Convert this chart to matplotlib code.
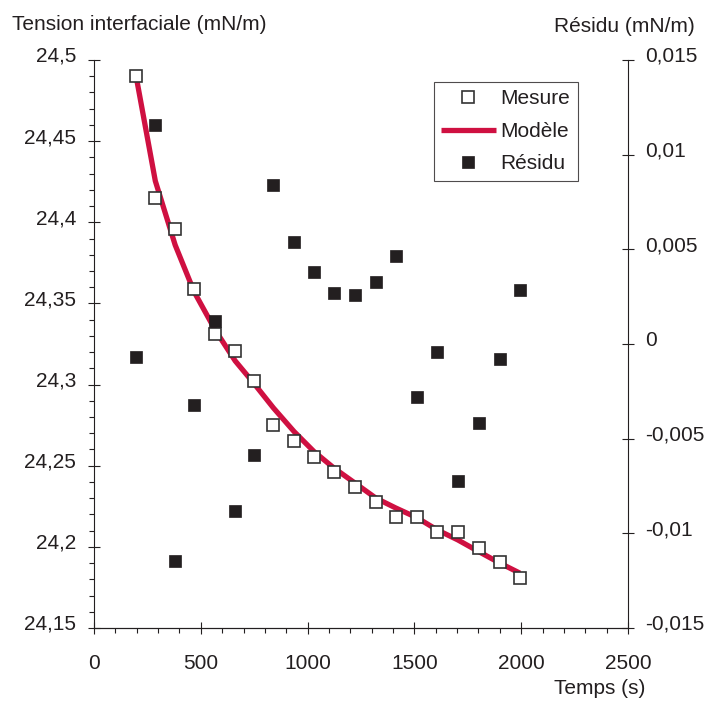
import matplotlib.pyplot as plt
import matplotlib.ticker as ticker
import matplotlib.transforms as mtransforms
import numpy as np

plt.rcParams['font.family'] = ['Liberation Sans', 'DejaVu Sans']

# data
temps = [197, 287, 380, 469, 567, 661, 747, 840, 937, 1030,
         1124, 1223, 1320, 1412, 1513, 1606, 1703, 1801, 1900, 1994]
mesure = [24.4901, 24.4148, 24.3959, 24.3587, 24.3310, 24.3207, 24.3024, 24.2750, 24.2655, 24.2556,
          24.2464, 24.2371, 24.2279, 24.2187, 24.2187, 24.2092, 24.2092, 24.1994, 24.1909, 24.1811]
modele = [24.4901, 24.4255, 24.3860, 24.3571, 24.3337, 24.3146, 24.3010, 24.2856, 24.2710, 24.2587,
          24.2485, 24.2392, 24.2300, 24.2240, 24.2179, 24.2105, 24.2043, 24.1971, 24.1900, 24.1838]
residu = [-0.00070, 0.01155, -0.01146, -0.00322, 0.00123, -0.00882, -0.00586, 0.00840, 0.00537, 0.00379,
          0.00268, 0.00257, 0.00326, 0.00463, -0.00278, -0.00042, -0.00725, -0.00416, -0.00081, 0.00284]

text_col = '#231f20'
red = '#cf1041'


def comma_fmt(v, pos):
    v = round(v, 6)
    if abs(v) < 1e-12:
        v = 0.0
    return '{:g}'.format(v).replace('.', ',')


fig = plt.figure(figsize=(7.04, 7.02), dpi=100)
ax = fig.add_axes([94 / 704, 1 - 628 / 702, 534 / 704, 568 / 702])
ax2 = ax.twinx()

l1, = ax.plot(temps, modele, color=red, lw=3.8, solid_joinstyle='round',
              solid_capstyle='butt', label='Modèle', zorder=2)
m1, = ax.plot(temps, mesure, ls='none', marker='s', ms=8, mfc='white',
              mec='#333333', mew=1.2, label='Mesure', zorder=3)
r1, = ax2.plot(temps, residu, ls='none', marker='s', ms=8, mfc=text_col,
               mec=text_col, mew=0.5, label='Résidu', zorder=3)

ax.set_xlim(0, 2500)
ax.set_ylim(24.15, 24.5)
ax2.set_ylim(-0.015, 0.015)

ax.set_xticks(np.arange(0, 2501, 500))
ax.xaxis.set_minor_locator(ticker.MultipleLocator(100))
ax.set_yticks(np.round(np.arange(24.15, 24.501, 0.05), 2))
ax.yaxis.set_minor_locator(ticker.MultipleLocator(0.01))
ax2.set_yticks(np.round(np.arange(-0.015, 0.0151, 0.005), 3))
ax.yaxis.set_major_formatter(ticker.FuncFormatter(comma_fmt))
ax2.yaxis.set_major_formatter(ticker.FuncFormatter(comma_fmt))

for a in (ax, ax2):
    a.spines['top'].set_visible(False)
    for s in a.spines.values():
        s.set_linewidth(0.8)
        s.set_color(text_col)
    a.tick_params(which='major', direction='inout', length=9, width=0.8,
                  colors=text_col, labelsize=15, pad=8.5)
    a.tick_params(which='minor', direction='out', length=3.5, width=0.8,
                  colors=text_col)
ax2.spines['left'].set_visible(False)
ax.spines['right'].set_visible(False)
ax.tick_params(axis='x', which='major', pad=14)
ax2.tick_params(axis='y', which='major', pad=7.5)

# shift the y tick labels slightly upward like the original
up = mtransforms.ScaledTranslation(0, 4 / 72, fig.dpi_scale_trans)
for lab in ax.get_yticklabels() + ax2.get_yticklabels():
    lab.set_transform(lab.get_transform() + up)

fig.text(12 / 704, 1 - 25 / 702, 'Tension interfaciale (mN/m)', fontsize=15,
         color=text_col, ha='left', va='center')
fig.text(695 / 704, 1 - 26 / 702, 'Résidu (mN/m)', fontsize=15,
         color=text_col, ha='right', va='center')
fig.text(645 / 704, 1 - 689 / 702, 'Temps (s)', fontsize=15,
         color=text_col, ha='right', va='center')

leg = ax2.legend(handles=[m1, l1, r1], loc='upper right',
                 bbox_to_anchor=((578 - 94) / 534, (628 - 82) / 568),
                 borderaxespad=0, fancybox=False, fontsize=15,
                 handlelength=2.6, handletextpad=0.25, labelspacing=0.64,
                 borderpad=0.36)
leg.get_frame().set_edgecolor(text_col)
leg.get_frame().set_linewidth(0.8)
for t in leg.get_texts():
    t.set_color(text_col)

fig.savefig('out.png', dpi=100)
